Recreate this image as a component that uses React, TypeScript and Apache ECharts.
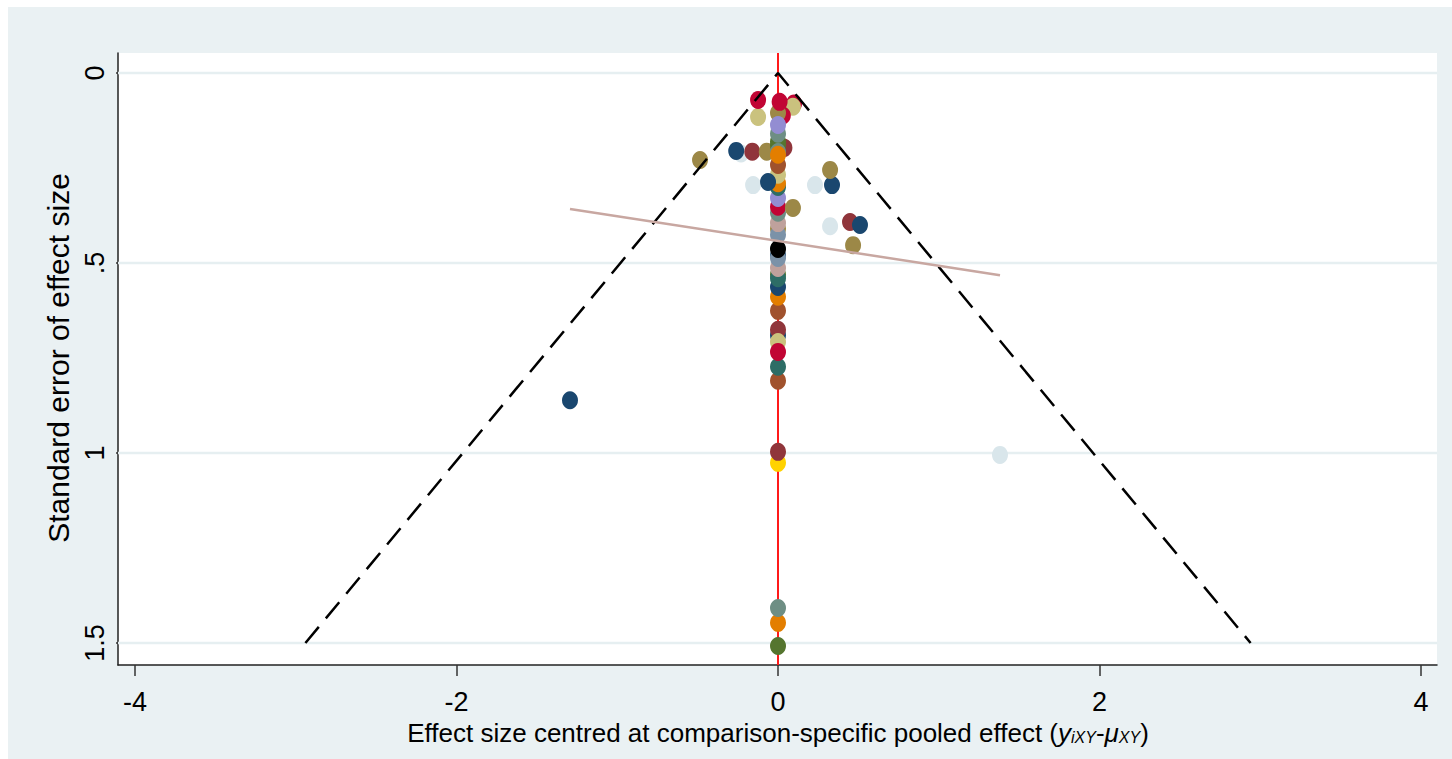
import React, { useEffect, useRef } from "react";
import * as echarts from "echarts";

// Stata s2color palette
const palette: Record<string, string> = {
  navy: "#1a476f",
  maroon: "#90353b",
  forest: "#55752f",
  dkorange: "#e37e00",
  teal: "#6e8e84",
  cranberry: "#c10534",
  lavender: "#938dd2",
  khaki: "#cac27e",
  sienna: "#a0522d",
  emidblue: "#7b92a8",
  emerald: "#2d6d66",
  brown: "#9c8847",
  erose: "#bfa19c",
  gold: "#ffd200",
  bluishgray: "#d9e6eb",
  black: "#000000",
};

// Effect size centred (x) and standard error (y) of each study
const effectX = [
  0.0, 0.0, 0.0, 0.0, 0.0, 0.0, 0.0, 0.0, 0.0, 0.0, 0.0, 0.0, 0.0, 0.0, 0.0, 0.0, 0.0, 0.0, 0.0, 0.0,
  0.0, 0.0, 0.0, 0.0, 0.0,
  -0.485, -1.294, 1.381, 0.448, 0.51, 0.324, 0.467,
  0.093, 0.0, 0.0, 0.0, 0.0,
  -0.23, -0.26, -0.16, -0.07, 0.04, 0.0, -0.155, 0.23, 0.336, 0.324, -0.062, 0.0, 0.0, 0.0,
  0.1, 0.093, -0.124, 0.03, 0.0, -0.124, 0.01, 0.0, 0.0, 0.0,
];
const seY = [
  1.508, 1.447, 1.408, 1.026, 0.997, 0.81, 0.773, 0.69, 0.676, 0.708, 0.734, 0.626, 0.589, 0.563, 0.53, 0.54, 0.513, 0.48, 0.487, 0.41,
  0.426, 0.395, 0.368, 0.352, 0.463,
  0.229, 0.861, 1.005, 0.392, 0.40, 0.403, 0.453,
  0.355, 0.329, 0.30, 0.29, 0.268,
  0.212, 0.205, 0.207, 0.207, 0.197, 0.19, 0.295, 0.295, 0.295, 0.255, 0.287, 0.242, 0.18, 0.208,
  0.08, 0.089, 0.116, 0.112, 0.105, 0.071, 0.076, 0.16, 0.137, 0.215,
];
const pointColors = [
  "forest", "dkorange", "teal", "gold", "maroon", "sienna", "emerald", "navy", "maroon", "khaki", "cranberry", "sienna", "dkorange", "navy", "forest", "emerald", "erose", "navy", "emidblue", "brown",
  "emidblue", "erose", "teal", "cranberry", "black",
  "brown", "navy", "bluishgray", "maroon", "navy", "bluishgray", "brown",
  "brown", "lavender", "emerald", "dkorange", "khaki",
  "bluishgray", "navy", "maroon", "brown", "maroon", "forest", "bluishgray", "bluishgray", "navy", "brown", "navy", "sienna", "forest", "teal",
  "cranberry", "khaki", "khaki", "cranberry", "brown", "cranberry", "cranberry", "teal", "lavender", "dkorange",
];

// Funnel (pseudo 95% CI) lines, regression line
const funnelX = [-2.94, 0, 2.94];
const funnelY = [1.5, 0, 1.5];
const regX = [-1.294, 1.381];
const regY = [0.358, 0.532];

// Axes
const gridValues = [0, 0.5, 1, 1.5];
const yTickLabels = ["0", ".5", "1", "1.5"];
const X_MIN = -4.1058;
const X_MAX = 4.0995;
const Y_MIN = -0.0526;
const Y_MAX = 1.5579;

const FONT = "'Liberation Sans', Arial, Helvetica, sans-serif";

export default function App() {
  const ref = useRef<HTMLDivElement>(null);

  useEffect(() => {
    if (!ref.current) return;
    const chart = echarts.init(ref.current, undefined, { renderer: "svg" });

    const points = effectX.map((x, i) => ({
      value: [x, seY[i]],
      itemStyle: { color: palette[pointColors[i]], opacity: 1 },
    }));

    const gridSeries = gridValues.map((v) => ({
      type: "line",
      xAxisIndex: 0,
      yAxisIndex: 0,
      data: [
        [X_MIN, v],
        [X_MAX, v],
      ],
      symbol: "none",
      silent: true,
      lineStyle: { color: "#e6eff1", width: 2.5 },
      z: 1,
    }));

    chart.setOption({
      animation: false,
      backgroundColor: "#eaf1f3",
      textStyle: { fontFamily: FONT },
      grid: [
        {
          left: 110,
          top: 46,
          right: 15,
          bottom: 94,
          show: true,
          backgroundColor: "#ffffff",
          borderWidth: 0,
        },
        { left: 127, top: 66, right: 31, bottom: 116 },
      ],
      xAxis: [
        {
          type: "value",
          gridIndex: 0,
          min: X_MIN,
          max: X_MAX,
          axisLine: { show: true, onZero: false, lineStyle: { color: "#222", width: 1.5 } },
          axisTick: { show: false },
          axisLabel: { show: false },
          splitLine: { show: false },
        },
        {
          type: "value",
          gridIndex: 1,
          min: -4,
          max: 4,
          interval: 2,
          offset: 22,
          axisLine: { show: false, onZero: false },
          axisTick: { show: true, length: 11, lineStyle: { color: "#333", width: 1.5 } },
          axisLabel: { fontSize: 27, color: "#000", margin: 23, fontFamily: FONT },
          splitLine: { show: false },
          name:
            "Effect size centred at comparison-specific pooled effect ({i|y}{s|iXY}-{i|μ}{s|XY})",
          nameLocation: "middle",
          nameGap: 54,
          nameTextStyle: {
            fontSize: 26,
            color: "#000",
            fontFamily: FONT,
            rich: {
              i: { fontStyle: "italic", fontSize: 26, color: "#000", fontFamily: FONT },
              s: {
                fontStyle: "italic",
                fontSize: 16,
                color: "#000",
                fontFamily: FONT,
                verticalAlign: "bottom",
                padding: [8, 0, 0, 0],
              },
            },
          },
        },
      ],
      yAxis: [
        {
          type: "value",
          gridIndex: 0,
          inverse: true,
          min: Y_MIN,
          max: Y_MAX,
          axisLine: { show: true, onZero: false, lineStyle: { color: "#222", width: 1.5 } },
          axisTick: { show: false },
          axisLabel: { show: false },
          splitLine: { show: false },
        },
        {
          type: "value",
          gridIndex: 1,
          inverse: true,
          min: 0,
          max: 1.5,
          interval: 0.5,
          offset: 9,
          axisLine: { show: false, onZero: false },
          axisTick: { show: true, length: 10, lineStyle: { color: "#333", width: 1.5 } },
          axisLabel: {
            fontSize: 27,
            color: "#000",
            rotate: 90,
            margin: 18,
            fontFamily: FONT,
            formatter: (v: number) => {
              const idx = gridValues.findIndex((g) => Math.abs(g - v) < 1e-6);
              return idx >= 0 ? yTickLabels[idx] : "";
            },
          },
          splitLine: { show: false },
          name: "Standard error of effect size",
          nameLocation: "middle",
          nameGap: 38,
          nameTextStyle: { fontSize: 30, color: "#000", fontFamily: FONT },
        },
      ],
      series: [
        ...gridSeries,
        {
          type: "line",
          xAxisIndex: 0,
          yAxisIndex: 0,
          data: [
            [0, Y_MIN],
            [0, Y_MAX],
          ],
          symbol: "none",
          silent: true,
          lineStyle: { color: "#ff1a1a", width: 2 },
          z: 2,
        },
        {
          type: "scatter",
          xAxisIndex: 0,
          yAxisIndex: 0,
          symbol: "circle",
          symbolSize: [16, 18],
          data: points,
          z: 3,
        },
        {
          type: "line",
          xAxisIndex: 0,
          yAxisIndex: 0,
          data: funnelX.map((x, i) => [x, funnelY[i]]),
          symbol: "none",
          silent: true,
          lineStyle: { color: "#000", width: 2.5, type: [21, 11] },
          z: 4,
        },
        {
          type: "line",
          xAxisIndex: 0,
          yAxisIndex: 0,
          data: regX.map((x, i) => [x, regY[i]]),
          symbol: "none",
          silent: true,
          lineStyle: { color: "#c8a7a1", width: 2.5 },
          z: 5,
        },
      ],
    });

    return () => chart.dispose();
  }, []);

  return (
    <div
      ref={ref}
      style={{ position: "fixed", left: 8, top: 7, width: 1444, height: 752 }}
    />
  );
}
